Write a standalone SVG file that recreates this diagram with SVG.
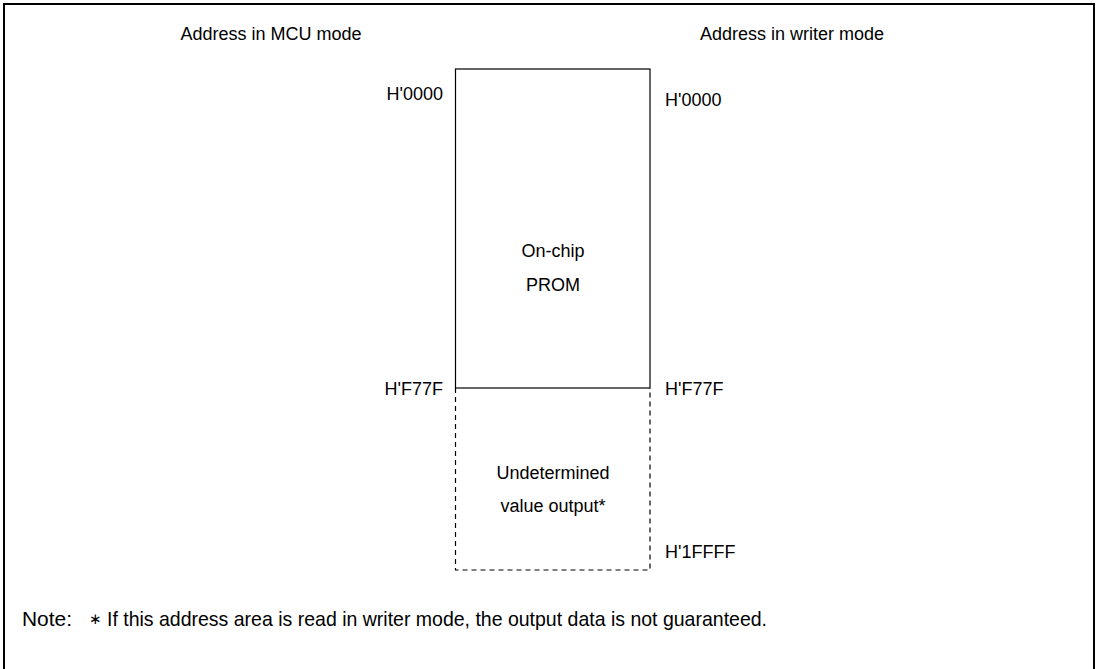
<svg xmlns="http://www.w3.org/2000/svg" width="1099" height="669" viewBox="0 0 1099 669">
<style>
text{font-family:"Liberation Sans",Arial,sans-serif;font-size:18px;fill:#000}
.m{text-anchor:middle}.e{text-anchor:end}
.note{font-size:21px}
.frame{fill:none;stroke:#000;stroke-width:2}
.solid{fill:none;stroke:#000;stroke-width:1.2}
.dash{fill:none;stroke:#000;stroke-width:1.2;stroke-dasharray:5,4}
</style>
<rect width="1099" height="669" fill="#fff"/>
<polyline class="frame" points="4,669 4,4 1094,4 1094,669"/>
<g id="headers">
<text x="271" y="40" class="m">Address in MCU mode</text>
<text x="792" y="40" class="m">Address in writer mode</text>
</g>
<g id="prom">
<rect class="solid" x="455.5" y="69" width="194.5" height="319"/>
<text x="553" y="257" class="m">On-chip</text>
<text x="553" y="291" class="m">PROM</text>
</g>
<g id="undetermined">
<polyline class="dash" points="455.5,388 455.5,570 650,570 650,388"/>
<text x="553" y="479" class="m">Undetermined</text>
<text x="553" y="512" class="m">value output*</text>
</g>
<g id="labels">
<text x="443" y="100" class="e">H'0000</text>
<text x="665" y="106">H'0000</text>
<text x="443" y="395" class="e">H'F77F</text>
<text x="665" y="395">H'F77F</text>
<text x="665" y="558">H'1FFFF</text>
</g>
<g id="connectors"></g>
<g id="note">
<text class="note" x="22" y="626" textLength="50" lengthAdjust="spacingAndGlyphs">Note:</text>
<text x="89" y="624" style="font-size:15px">∗</text>
<text class="note" x="107" y="626" textLength="660" lengthAdjust="spacingAndGlyphs">If this address area is read in writer mode, the output data is not guaranteed.</text>
</g>
</svg>
